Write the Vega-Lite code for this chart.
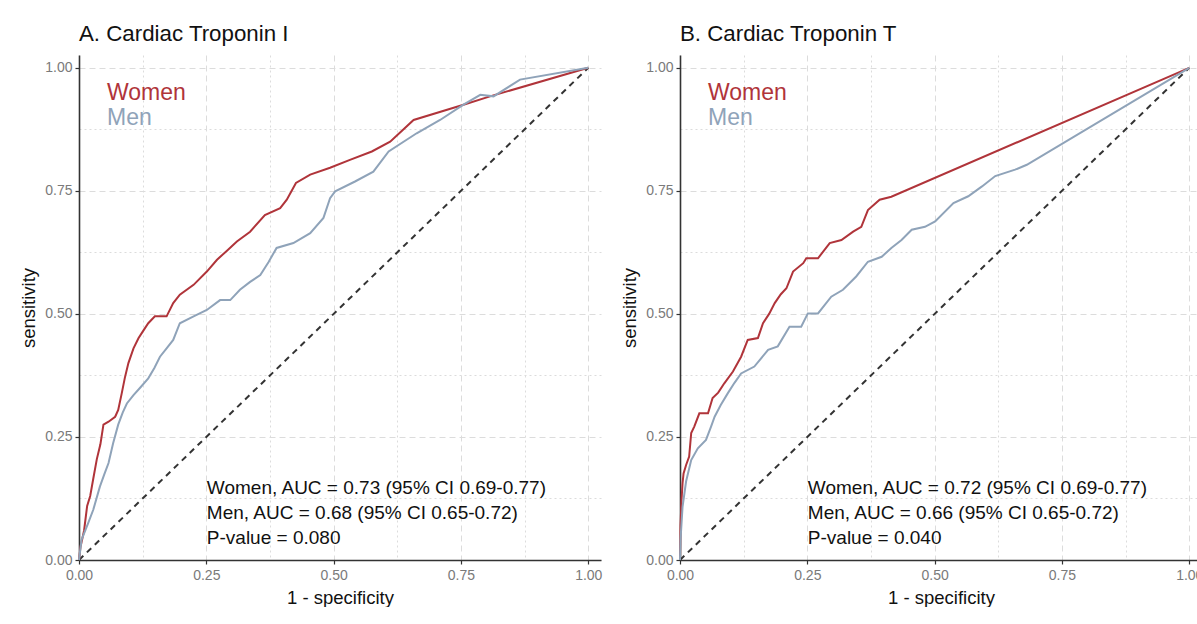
{
  "$schema": "https://vega.github.io/schema/vega-lite/v6.json",
  "padding": {"left": 19, "top": 22, "right": 0, "bottom": 0},
  "background": "white",
  "spacing": 18,
  "datasets": {
    "rocI": [
      {"sex":"Women","fpr":0,"tpr":0},{"sex":"Women","fpr":0.003,"tpr":0.027},{"sex":"Women","fpr":0.010,"tpr":0.06},{"sex":"Women","fpr":0.016,"tpr":0.11},{"sex":"Women","fpr":0.022,"tpr":0.13},{"sex":"Women","fpr":0.028,"tpr":0.165},{"sex":"Women","fpr":0.035,"tpr":0.205},{"sex":"Women","fpr":0.042,"tpr":0.235},{"sex":"Women","fpr":0.048,"tpr":0.275},{"sex":"Women","fpr":0.058,"tpr":0.281},{"sex":"Women","fpr":0.071,"tpr":0.291},{"sex":"Women","fpr":0.077,"tpr":0.305},{"sex":"Women","fpr":0.084,"tpr":0.339},{"sex":"Women","fpr":0.090,"tpr":0.37},{"sex":"Women","fpr":0.097,"tpr":0.400},{"sex":"Women","fpr":0.107,"tpr":0.43},{"sex":"Women","fpr":0.117,"tpr":0.451},{"sex":"Women","fpr":0.127,"tpr":0.467},{"sex":"Women","fpr":0.136,"tpr":0.481},{"sex":"Women","fpr":0.149,"tpr":0.495},{"sex":"Women","fpr":0.172,"tpr":0.495},{"sex":"Women","fpr":0.185,"tpr":0.522},{"sex":"Women","fpr":0.198,"tpr":0.539},{"sex":"Women","fpr":0.225,"tpr":0.559},{"sex":"Women","fpr":0.251,"tpr":0.586},{"sex":"Women","fpr":0.271,"tpr":0.610},{"sex":"Women","fpr":0.290,"tpr":0.628},{"sex":"Women","fpr":0.310,"tpr":0.647},{"sex":"Women","fpr":0.336,"tpr":0.667},{"sex":"Women","fpr":0.365,"tpr":0.701},{"sex":"Women","fpr":0.395,"tpr":0.715},{"sex":"Women","fpr":0.408,"tpr":0.732},{"sex":"Women","fpr":0.426,"tpr":0.766},{"sex":"Women","fpr":0.454,"tpr":0.783},{"sex":"Women","fpr":0.493,"tpr":0.797},{"sex":"Women","fpr":0.532,"tpr":0.813},{"sex":"Women","fpr":0.575,"tpr":0.83},{"sex":"Women","fpr":0.611,"tpr":0.850},{"sex":"Women","fpr":0.657,"tpr":0.894},{"sex":"Women","fpr":0.755,"tpr":0.925},{"sex":"Women","fpr":0.807,"tpr":0.942},{"sex":"Women","fpr":1,"tpr":1},
      {"sex":"Men","fpr":0,"tpr":0},{"sex":"Men","fpr":0.005,"tpr":0.041},{"sex":"Men","fpr":0.018,"tpr":0.075},{"sex":"Men","fpr":0.028,"tpr":0.102},{"sex":"Men","fpr":0.041,"tpr":0.149},{"sex":"Men","fpr":0.050,"tpr":0.175},{"sex":"Men","fpr":0.058,"tpr":0.197},{"sex":"Men","fpr":0.067,"tpr":0.237},{"sex":"Men","fpr":0.077,"tpr":0.275},{"sex":"Men","fpr":0.086,"tpr":0.30},{"sex":"Men","fpr":0.094,"tpr":0.318},{"sex":"Men","fpr":0.107,"tpr":0.335},{"sex":"Men","fpr":0.120,"tpr":0.35},{"sex":"Men","fpr":0.136,"tpr":0.369},{"sex":"Men","fpr":0.148,"tpr":0.39},{"sex":"Men","fpr":0.159,"tpr":0.413},{"sex":"Men","fpr":0.172,"tpr":0.43},{"sex":"Men","fpr":0.185,"tpr":0.447},{"sex":"Men","fpr":0.198,"tpr":0.481},{"sex":"Men","fpr":0.225,"tpr":0.495},{"sex":"Men","fpr":0.251,"tpr":0.508},{"sex":"Men","fpr":0.277,"tpr":0.528},{"sex":"Men","fpr":0.297,"tpr":0.528},{"sex":"Men","fpr":0.316,"tpr":0.549},{"sex":"Men","fpr":0.336,"tpr":0.565},{"sex":"Men","fpr":0.356,"tpr":0.579},{"sex":"Men","fpr":0.372,"tpr":0.605},{"sex":"Men","fpr":0.388,"tpr":0.634},{"sex":"Men","fpr":0.421,"tpr":0.644},{"sex":"Men","fpr":0.454,"tpr":0.664},{"sex":"Men","fpr":0.480,"tpr":0.695},{"sex":"Men","fpr":0.493,"tpr":0.735},{"sex":"Men","fpr":0.503,"tpr":0.749},{"sex":"Men","fpr":0.542,"tpr":0.769},{"sex":"Men","fpr":0.578,"tpr":0.789},{"sex":"Men","fpr":0.608,"tpr":0.830},{"sex":"Men","fpr":0.663,"tpr":0.867},{"sex":"Men","fpr":0.709,"tpr":0.894},{"sex":"Men","fpr":0.755,"tpr":0.925},{"sex":"Men","fpr":0.788,"tpr":0.945},{"sex":"Men","fpr":0.814,"tpr":0.942},{"sex":"Men","fpr":0.866,"tpr":0.976},{"sex":"Men","fpr":1,"tpr":1}
    ],
    "rocT": [
      {"sex":"Women","fpr":0,"tpr":0},{"sex":"Women","fpr":0.001,"tpr":0.07},{"sex":"Women","fpr":0.003,"tpr":0.122},{"sex":"Women","fpr":0.005,"tpr":0.156},{"sex":"Women","fpr":0.007,"tpr":0.176},{"sex":"Women","fpr":0.012,"tpr":0.193},{"sex":"Women","fpr":0.018,"tpr":0.210},{"sex":"Women","fpr":0.022,"tpr":0.258},{"sex":"Women","fpr":0.028,"tpr":0.271},{"sex":"Women","fpr":0.038,"tpr":0.298},{"sex":"Women","fpr":0.055,"tpr":0.298},{"sex":"Women","fpr":0.064,"tpr":0.329},{"sex":"Women","fpr":0.075,"tpr":0.34},{"sex":"Women","fpr":0.087,"tpr":0.359},{"sex":"Women","fpr":0.104,"tpr":0.383},{"sex":"Women","fpr":0.120,"tpr":0.413},{"sex":"Women","fpr":0.133,"tpr":0.447},{"sex":"Women","fpr":0.153,"tpr":0.451},{"sex":"Women","fpr":0.163,"tpr":0.481},{"sex":"Women","fpr":0.175,"tpr":0.50},{"sex":"Women","fpr":0.186,"tpr":0.522},{"sex":"Women","fpr":0.198,"tpr":0.54},{"sex":"Women","fpr":0.209,"tpr":0.552},{"sex":"Women","fpr":0.222,"tpr":0.586},{"sex":"Women","fpr":0.242,"tpr":0.603},{"sex":"Women","fpr":0.248,"tpr":0.613},{"sex":"Women","fpr":0.271,"tpr":0.613},{"sex":"Women","fpr":0.294,"tpr":0.644},{"sex":"Women","fpr":0.317,"tpr":0.650},{"sex":"Women","fpr":0.340,"tpr":0.667},{"sex":"Women","fpr":0.356,"tpr":0.677},{"sex":"Women","fpr":0.369,"tpr":0.711},{"sex":"Women","fpr":0.392,"tpr":0.732},{"sex":"Women","fpr":0.415,"tpr":0.738},{"sex":"Women","fpr":1,"tpr":1},
      {"sex":"Men","fpr":0,"tpr":0},{"sex":"Men","fpr":0.001,"tpr":0.041},{"sex":"Men","fpr":0.005,"tpr":0.108},{"sex":"Men","fpr":0.012,"tpr":0.160},{"sex":"Men","fpr":0.022,"tpr":0.203},{"sex":"Men","fpr":0.035,"tpr":0.227},{"sex":"Men","fpr":0.051,"tpr":0.244},{"sex":"Men","fpr":0.061,"tpr":0.271},{"sex":"Men","fpr":0.068,"tpr":0.291},{"sex":"Men","fpr":0.080,"tpr":0.315},{"sex":"Men","fpr":0.094,"tpr":0.339},{"sex":"Men","fpr":0.107,"tpr":0.36},{"sex":"Men","fpr":0.120,"tpr":0.379},{"sex":"Men","fpr":0.146,"tpr":0.393},{"sex":"Men","fpr":0.173,"tpr":0.427},{"sex":"Men","fpr":0.192,"tpr":0.434},{"sex":"Men","fpr":0.215,"tpr":0.474},{"sex":"Men","fpr":0.238,"tpr":0.474},{"sex":"Men","fpr":0.251,"tpr":0.501},{"sex":"Men","fpr":0.271,"tpr":0.501},{"sex":"Men","fpr":0.297,"tpr":0.535},{"sex":"Men","fpr":0.320,"tpr":0.549},{"sex":"Men","fpr":0.346,"tpr":0.576},{"sex":"Men","fpr":0.369,"tpr":0.606},{"sex":"Men","fpr":0.396,"tpr":0.616},{"sex":"Men","fpr":0.415,"tpr":0.634},{"sex":"Men","fpr":0.435,"tpr":0.650},{"sex":"Men","fpr":0.455,"tpr":0.671},{"sex":"Men","fpr":0.481,"tpr":0.677},{"sex":"Men","fpr":0.501,"tpr":0.688},{"sex":"Men","fpr":0.537,"tpr":0.725},{"sex":"Men","fpr":0.566,"tpr":0.739},{"sex":"Men","fpr":0.593,"tpr":0.759},{"sex":"Men","fpr":0.619,"tpr":0.780},{"sex":"Men","fpr":0.658,"tpr":0.793},{"sex":"Men","fpr":0.681,"tpr":0.803},{"sex":"Men","fpr":1,"tpr":1}
    ],
    "chance": [{"fpr":0,"tpr":0},{"fpr":1,"tpr":1}],
    "women": [{"sex":"Women"}],
    "men": [{"sex":"Men"}],
    "statsA": [{"text":"Women, AUC = 0.73 (95% CI 0.69-0.77)\nMen, AUC = 0.68 (95% CI 0.65-0.72)\nP-value = 0.080"}],
    "statsB": [{"text":"Women, AUC = 0.72 (95% CI 0.69-0.77)\nMen, AUC = 0.66 (95% CI 0.65-0.72)\nP-value = 0.040"}]
  },
  "hconcat": [
    {
      "width": 522, "height": 505,
      "title": {"text": "A. Cardiac Troponin I", "anchor": "start", "frame": "group", "fontSize": 22.3, "fontWeight": "normal", "font": "Liberation Sans", "color": "#111", "offset": 10},
      "layer": [
        {"data": {"name": "chance"}, "mark": {"type": "line", "color": "#333", "strokeWidth": 2, "strokeDash": [6, 5]},
         "encoding": {
           "x": {"field": "fpr", "type": "quantitative", "scale": {"domain": [0, 1.025], "nice": false, "zero": false}, "title": "1 - specificity", "axis": {"values": [0, 0.125, 0.25, 0.375, 0.5, 0.625, 0.75, 0.875, 1]}},
           "y": {"field": "tpr", "type": "quantitative", "scale": {"domain": [0, 1.026], "nice": false, "zero": false}, "title": "sensitivity", "axis": {"values": [0, 0.125, 0.25, 0.375, 0.5, 0.625, 0.75, 0.875, 1]}}
         }},
        {"data": {"name": "rocI"}, "mark": {"type": "line", "strokeWidth": 2},
         "encoding": {
           "x": {"field": "fpr", "type": "quantitative"},
           "y": {"field": "tpr", "type": "quantitative"},
           "color": {"field": "sex", "type": "nominal", "scale": {"domain": ["Women", "Men"], "range": ["#B0343A", "#8FA3B9"]}, "legend": null},
           "order": [{"field": "fpr"}, {"field": "tpr"}]}},
        {"data": {"name": "women"},
         "mark": {"type": "text", "align": "left", "baseline": "middle", "fontSize": 23},
         "encoding": {"x": {"datum": 0.055, "type": "quantitative"}, "y": {"datum": 0.949, "type": "quantitative"}, "text": {"field": "sex", "type": "nominal"}, "color": {"field": "sex", "type": "nominal", "legend": null}}},
        {"data": {"name": "men"},
         "mark": {"type": "text", "align": "left", "baseline": "middle", "fontSize": 23},
         "encoding": {"x": {"datum": 0.055, "type": "quantitative"}, "y": {"datum": 0.898, "type": "quantitative"}, "text": {"field": "sex", "type": "nominal"}, "color": {"field": "sex", "type": "nominal", "legend": null}}},
        {"data": {"name": "statsA"},
         "mark": {"type": "text", "align": "left", "baseline": "middle", "fontSize": 19, "lineBreak": "\n", "lineHeight": 25, "color": "#111"},
         "encoding": {"x": {"datum": 0.251, "type": "quantitative"}, "y": {"datum": 0.146, "type": "quantitative"}, "text": {"field": "text", "type": "nominal"}}}
      ]
    },
    {
      "width": 522, "height": 505,
      "title": {"text": "B. Cardiac Troponin T", "anchor": "start", "frame": "group", "fontSize": 22.3, "fontWeight": "normal", "font": "Liberation Sans", "color": "#111", "offset": 10},
      "layer": [
        {"data": {"name": "chance"}, "mark": {"type": "line", "color": "#333", "strokeWidth": 2, "strokeDash": [6, 5]},
         "encoding": {
           "x": {"field": "fpr", "type": "quantitative", "scale": {"domain": [0, 1.025], "nice": false, "zero": false}, "title": "1 - specificity", "axis": {"values": [0, 0.125, 0.25, 0.375, 0.5, 0.625, 0.75, 0.875, 1]}},
           "y": {"field": "tpr", "type": "quantitative", "scale": {"domain": [0, 1.026], "nice": false, "zero": false}, "title": "sensitivity", "axis": {"values": [0, 0.125, 0.25, 0.375, 0.5, 0.625, 0.75, 0.875, 1]}}
         }},
        {"data": {"name": "rocT"}, "mark": {"type": "line", "strokeWidth": 2},
         "encoding": {
           "x": {"field": "fpr", "type": "quantitative"},
           "y": {"field": "tpr", "type": "quantitative"},
           "color": {"field": "sex", "type": "nominal", "scale": {"domain": ["Women", "Men"], "range": ["#B0343A", "#8FA3B9"]}, "legend": null},
           "order": [{"field": "fpr"}, {"field": "tpr"}]}},
        {"data": {"name": "women"},
         "mark": {"type": "text", "align": "left", "baseline": "middle", "fontSize": 23},
         "encoding": {"x": {"datum": 0.055, "type": "quantitative"}, "y": {"datum": 0.949, "type": "quantitative"}, "text": {"field": "sex", "type": "nominal"}, "color": {"field": "sex", "type": "nominal", "legend": null}}},
        {"data": {"name": "men"},
         "mark": {"type": "text", "align": "left", "baseline": "middle", "fontSize": 23},
         "encoding": {"x": {"datum": 0.055, "type": "quantitative"}, "y": {"datum": 0.898, "type": "quantitative"}, "text": {"field": "sex", "type": "nominal"}, "color": {"field": "sex", "type": "nominal", "legend": null}}},
        {"data": {"name": "statsB"},
         "mark": {"type": "text", "align": "left", "baseline": "middle", "fontSize": 19, "lineBreak": "\n", "lineHeight": 25, "color": "#111"},
         "encoding": {"x": {"datum": 0.251, "type": "quantitative"}, "y": {"datum": 0.146, "type": "quantitative"}, "text": {"field": "text", "type": "nominal"}}}
      ]
    }
  ],
  "config": {
    "view": {"stroke": null},
    "font": "Liberation Sans",
    "text": {"font": "Liberation Sans"},
    "axis": {
      "labelExpr": "(datum.value * 4) % 1 === 0 ? format(datum.value, '.2f') : ''",
      "labelFont": "Liberation Sans", "labelFontSize": 14, "labelColor": "#7a7a7a",
      "titleFont": "Liberation Sans", "titleFontSize": 18.5, "titleFontWeight": "normal", "titleColor": "#111",
      "domainColor": "#333", "domainWidth": 1.6,
      "tickColor": "#333", "tickSize": 4, "tickWidth": 1.2,
      "tickOpacity": {"condition": {"test": "(datum.value * 4) % 1 === 0", "value": 1}, "value": 0},
      "grid": true, "gridColor": "#dcdcdc", "gridWidth": 1,
      "gridDash": {"condition": {"test": "(datum.value * 4) % 1 === 0", "value": [6, 4]}, "value": [2, 3]},
      "labelOverlap": false,
      "labelFlush": false
    },
    "axisX": {"titlePadding": 6, "labelPadding": 4},
    "axisY": {"titlePadding": 6, "labelPadding": 3}
  }
}
